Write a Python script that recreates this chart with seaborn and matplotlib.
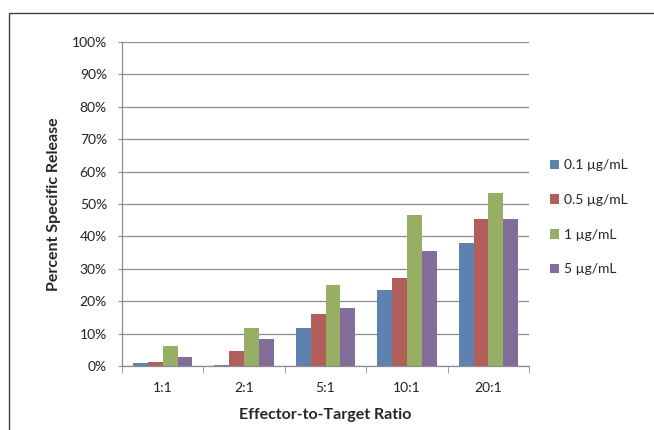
import matplotlib
matplotlib.use("Agg")
import matplotlib.pyplot as plt
from matplotlib.patches import Rectangle
from matplotlib.ticker import PercentFormatter, FixedLocator
import seaborn as sns
import pandas as pd

ratios = ["1:1", "2:1", "5:1", "10:1", "20:1"]
concentrations = ["0.1 µg/mL", "0.5 µg/mL", "1 µg/mL", "5 µg/mL"]
release_01 = [1.0, 0.3, 11.8, 23.6, 38.1]
release_05 = [1.3, 4.7, 16.1, 27.2, 45.5]
release_1 = [6.3, 11.8, 25.1, 46.7, 53.3]
release_5 = [2.8, 8.3, 18.0, 35.4, 45.5]
colors = ["#4F81BD", "#C0504D", "#9BBB59", "#8064A2"]

series = [release_01, release_05, release_1, release_5]
rows = []
for conc, vals in zip(concentrations, series):
    for r, v in zip(ratios, vals):
        rows.append({"ratio": r, "conc": conc, "release": v})
df = pd.DataFrame(rows)

sns.set_style("white")
plt.rcParams["font.family"] = ["Lato", "DejaVu Sans"]

fig = plt.figure(figsize=(6.54, 4.30), dpi=100)
ax = fig.add_axes([0.1865, 0.1488, 0.6225, 0.7535])

sns.barplot(data=df, x="ratio", y="release", hue="conc", order=ratios,
            hue_order=concentrations, palette=colors, width=0.73, gap=0,
            edgecolor="none", linewidth=0, ax=ax, legend=True)

grid_c = "#8C8C8C"
ax.set_ylim(0, 100)
ax.set_xlim(-0.5, len(ratios) - 0.5)
ax.set_yticks(range(0, 101, 10))
ax.yaxis.set_major_formatter(PercentFormatter(decimals=0))
ax.yaxis.grid(True, color=grid_c, linewidth=0.9)
ax.set_axisbelow(True)
for s in ["top", "right"]:
    ax.spines[s].set_visible(False)
for s in ["left", "bottom"]:
    ax.spines[s].set_color(grid_c)
    ax.spines[s].set_linewidth(0.9)

ax.tick_params(axis="y", left=True, length=3, color=grid_c, labelsize=10,
               pad=7.8, labelcolor="#222222")
ax.xaxis.set_minor_locator(FixedLocator([i - 0.5 for i in range(len(ratios) + 1)]))
ax.tick_params(axis="x", which="minor", bottom=True, length=5, color=grid_c)
ax.tick_params(axis="x", which="major", bottom=False, labelsize=10, pad=8,
               labelcolor="#222222")

ax.set_xlabel("Effector-to-Target Ratio", fontsize=11.5, fontweight="bold",
              labelpad=10)
ax.set_ylabel("Percent Specific Release", fontsize=11.5, fontweight="bold",
              labelpad=7.5)

ax.legend(loc="upper left", bbox_to_anchor=(1.037, 0.655), frameon=False,
          fontsize=10, handlelength=0.7, handleheight=0.7, handletextpad=0.3,
          labelspacing=1.63, borderaxespad=0)

# outer chart border
fig.patches.append(Rectangle((9 / 654, -0.2), 1.5, 1 - 13 / 430 + 0.2,
                             transform=fig.transFigure, fill=False,
                             edgecolor="#404040", linewidth=1.0))

fig.savefig("out.png", dpi=100)
